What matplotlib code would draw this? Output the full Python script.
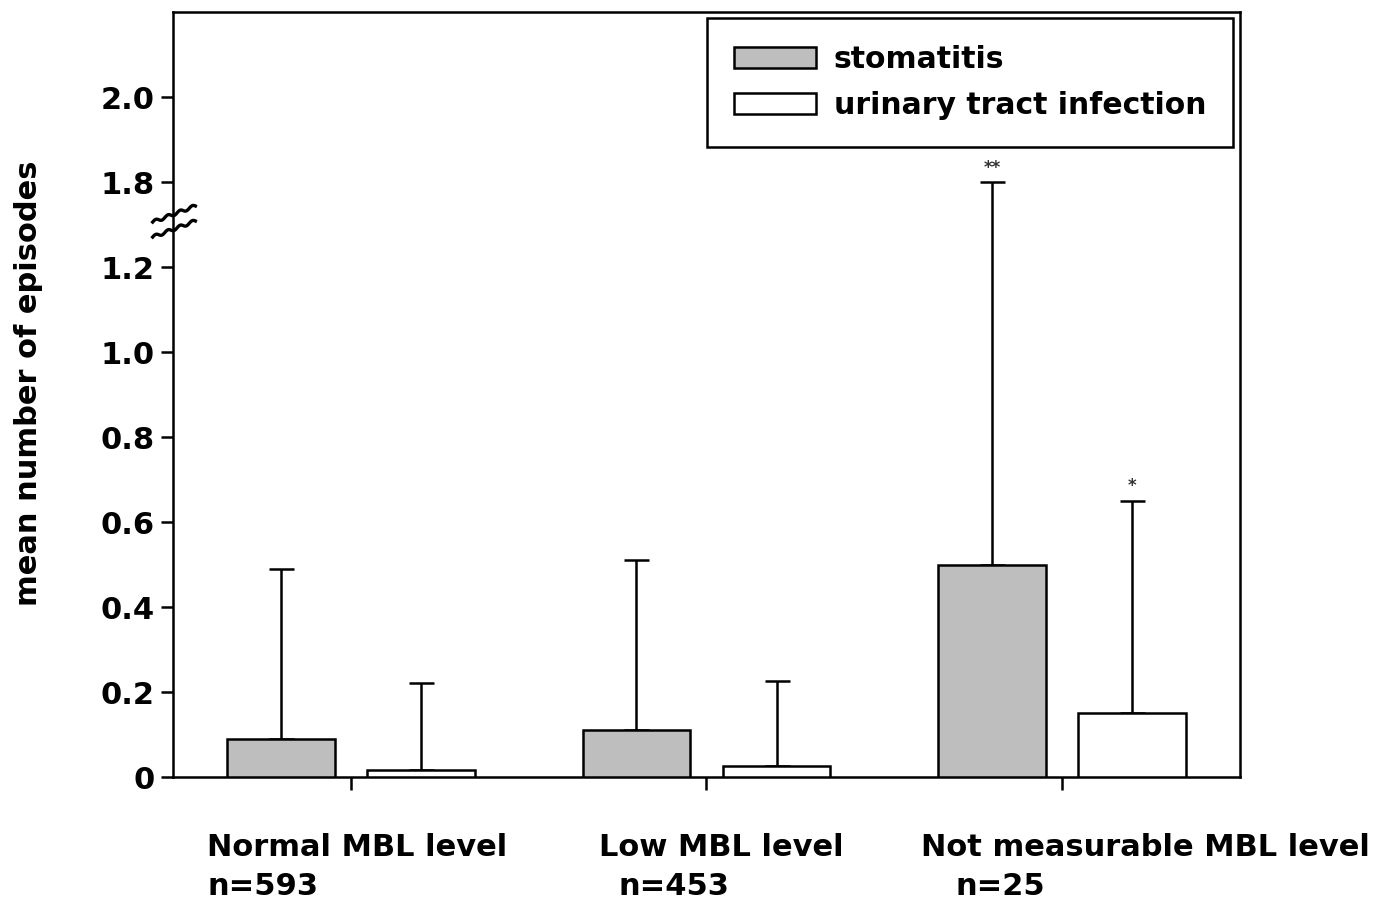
import numpy as np
import matplotlib
matplotlib.use("Agg")
import matplotlib.pyplot as plt

plt.rcParams['font.family'] = ['DejaVu Sans']
plt.rcParams['font.weight'] = 'bold'

# data
groups = ["Normal MBL level", "Low MBL level", "Not measurable MBL level"]
group_n = ["n=593", "n=453", "n=25"]
stoma_mean = [0.09, 0.11, 0.50]
stoma_sd = [0.40, 0.40, 1.30]
uti_mean = [0.017, 0.026, 0.15]
uti_sd = [0.205, 0.20, 0.50]
stoma_sig = ["", "", "**"]
uti_sig = ["", "", "*"]

tick_vals = [0, 0.2, 0.4, 0.6, 0.8, 1.0, 1.2, 1.8, 2.0]
tick_labels = ["0", "0.2", "0.4", "0.6", "0.8", "1.0", "1.2", "1.8", "2.0"]

# axis break: values above 1.3 are shifted down by 0.4
def brk(v):
    v = np.asarray(v, dtype=float)
    return np.where(v > 1.3, v - 0.4, v)

fig = plt.figure(figsize=(13.87, 9.01), dpi=100)
ax = fig.add_axes([0.1247, 0.1376, 0.7693, 0.849])

x = np.arange(len(groups))
w = 0.303
off = 0.197
lw = 1.8
fs = 22

s_top = brk(np.array(stoma_mean) + np.array(stoma_sd))
u_top = brk(np.array(uti_mean) + np.array(uti_sd))

ax.bar(x - off, stoma_mean, w, color="#bebebe", edgecolor="black", linewidth=lw,
       label="stomatitis", zorder=3)
ax.bar(x + off, uti_mean, w, color="white", edgecolor="black", linewidth=lw,
       label="urinary tract infection", zorder=3)

# upward-only error bars
ax.errorbar(x - off, stoma_mean, yerr=[np.zeros(3), s_top - np.array(stoma_mean)],
            fmt="none", ecolor="black", elinewidth=lw, capsize=9, capthick=lw, zorder=2)
ax.errorbar(x + off, uti_mean, yerr=[np.zeros(3), u_top - np.array(uti_mean)],
            fmt="none", ecolor="black", elinewidth=lw, capsize=9, capthick=lw, zorder=2)

for i in range(len(groups)):
    if stoma_sig[i]:
        ax.annotate(stoma_sig[i], (x[i] - off, s_top[i]), xytext=(0, 4),
                    textcoords="offset points", ha="center", va="bottom",
                    fontsize=12, color="#333333")
    if uti_sig[i]:
        ax.annotate(uti_sig[i], (x[i] + off, u_top[i]), xytext=(0, 4),
                    textcoords="offset points", ha="center", va="bottom",
                    fontsize=12, color="#333333")

ax.set_xlim(-0.5, 2.5)
ax.set_ylim(0, 1.8)
ax.set_yticks(brk(tick_vals))
ax.set_yticklabels(tick_labels)
ax.set_xticks(x)
ax.set_xticklabels([])
ax.tick_params(axis="both", direction="out", length=9, width=lw, labelsize=fs, pad=4)

for sp in ax.spines.values():
    sp.set_linewidth(lw)

ax.set_ylabel("mean number of episodes", fontsize=fs, fontweight="bold")
ax.yaxis.set_label_coords(-0.122, 0.515)

# group labels under the axis
label_dx = [-0.404, -0.303, -0.398]
n_dx = [-0.404, -0.247, -0.300]
for i in range(len(groups)):
    ax.text(x[i] + label_dx[i], -0.165, groups[i], ha="left", va="center",
            fontsize=fs, fontweight="bold", transform=ax.transData, clip_on=False)
    ax.text(x[i] + n_dx[i], -0.258, group_n[i], ha="left", va="center",
            fontsize=fs, fontweight="bold", transform=ax.transData, clip_on=False)

# break marks on the y axis
t = np.linspace(0, 1, 80)
for yb in [0.7255, 0.7059]:
    xs = -0.019 + 0.040 * t
    ys = yb + 0.021 * t + 0.002 * np.sin(t * 2 * np.pi * 3.5)
    ax.plot(xs, ys, color="black", lw=2.4, transform=ax.transAxes, clip_on=False,
            zorder=5)

leg = ax.legend(loc="upper right", bbox_to_anchor=(0.9934, 0.9922), fontsize=21.5,
                frameon=True, fancybox=False, edgecolor="black", handlelength=2.75,
                handleheight=0.72, handletextpad=0.6, labelspacing=0.58,
                borderpad=0.9, borderaxespad=0)
leg.get_frame().set_linewidth(lw)
leg.get_frame().set_alpha(1)

fig.savefig("out.png", dpi=100)
